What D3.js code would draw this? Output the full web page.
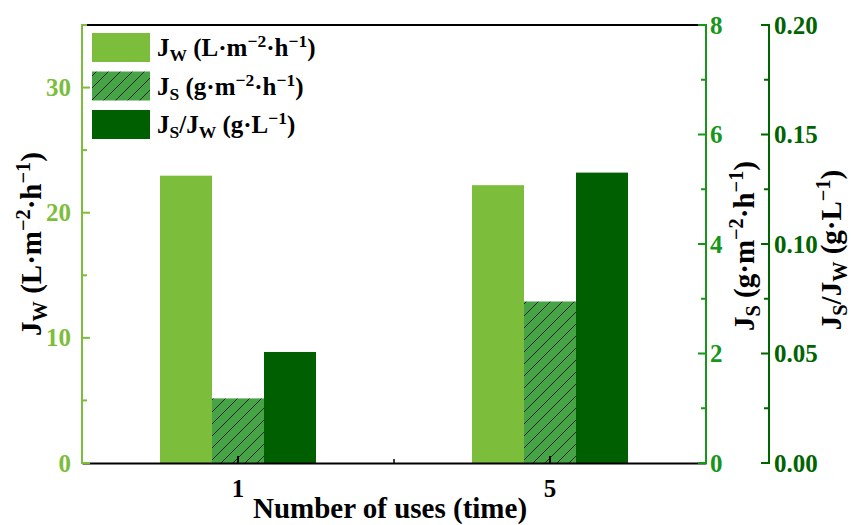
<!DOCTYPE html>
<html>
<head>
<meta charset="utf-8">
<script src="https://cdn.jsdelivr.net/npm/d3@7"></script>
<style>
  html, body { margin: 0; padding: 0; background: #fff; }
  svg { display: block; font-family: "Liberation Serif", "Times New Roman", serif; font-weight: bold; }
</style>
</head>
<body>
<div id="chart"></div>
<script>
// Membrane performance over repeated uses
const categories = ["1", "5"];
const seriesKeys = ["Jw", "Js", "ratio"];
const jwValues = [22.96, 22.2];      // L·m⁻²·h⁻¹
const jsValues = [1.18, 2.95];       // g·m⁻²·h⁻¹
const ratioValues = [0.0507, 0.1326]; // g·L⁻¹

const leftTicks = [0, 10, 20, 30];
const jsTicks = [0, 2, 4, 6, 8];
const ratioTicks = [0, 0.05, 0.10, 0.15, 0.20];

const W = 851, H = 525;
const m = { left: 82, right: 706, top: 25, bottom: 463 };
const axis2X = 769;

const colW = "#7dbd3c", colS = "#46a446", colR = "#005f00";
const axisColL = "#7dbd3c", axisColS = "#16961a", axisColR = "#006400";

const svg = d3.select("#chart").append("svg").attr("width", W).attr("height", H);

// Diagonal hatch for the solute-flux bars
const hs = 12;
const defs = svg.append("defs");
const pat = defs.append("pattern").attr("id", "hatch").attr("patternUnits", "userSpaceOnUse")
  .attr("width", hs).attr("height", hs);
pat.append("rect").attr("width", hs).attr("height", hs).attr("fill", colS);
pat.append("path").attr("d", `M-1,${hs + 1} L${hs + 1},-1 M-3,3 L3,-3 M${hs - 3},${hs + 3} L${hs + 3},${hs - 3}`)
  .attr("stroke", "#1a1a1a").attr("stroke-width", 0.9);

const x0 = d3.scaleBand().domain(categories).range([m.left, m.right]).paddingInner(0.5).paddingOuter(0.25);
const x1 = d3.scaleBand().domain(seriesKeys).range([0, x0.bandwidth()]);
const yW = d3.scaleLinear().domain([0, 35]).range([m.bottom, m.top]);
const yS = d3.scaleLinear().domain([0, 8]).range([m.bottom, m.top]);
const yR = d3.scaleLinear().domain([0, 0.2]).range([m.bottom, m.top]);

const series = [
  { key: "Jw", values: jwValues, y: yW, fill: colW },
  { key: "Js", values: jsValues, y: yS, fill: "url(#hatch)" },
  { key: "ratio", values: ratioValues, y: yR, fill: colR }
];

// Bars
series.forEach(s => {
  svg.append("g").selectAll("rect").data(categories.map((c, i) => ({ c, v: s.values[i] })))
    .join("rect")
    .attr("x", d => x0(d.c) + x1(s.key))
    .attr("width", x1.bandwidth())
    .attr("y", d => s.y(d.v))
    .attr("height", d => m.bottom - s.y(d.v))
    .attr("fill", s.fill);
});

// Frame: top border
svg.append("line").attr("x1", m.left).attr("x2", m.right).attr("y1", m.top).attr("y2", m.top)
  .attr("stroke", "#000").attr("stroke-width", 2);

// X axis
const xAxis = svg.append("g").attr("transform", `translate(0,${m.bottom})`)
  .call(d3.axisBottom(x0).tickSize(0).tickPadding(16));
xAxis.select(".domain").attr("stroke", "#000").attr("stroke-width", 2);
xAxis.selectAll("text").attr("font-size", 25).attr("font-family", "Liberation Serif").attr("fill", "#000");
const xCenters = categories.map(c => x0(c) + x0.bandwidth() / 2);
const xMinor = [(xCenters[0] + xCenters[1]) / 2];
svg.append("g").selectAll("line").data(xCenters).join("line")
  .attr("x1", d => d).attr("x2", d => d).attr("y1", m.bottom).attr("y2", m.bottom - 7)
  .attr("stroke", "#000").attr("stroke-width", 2);
svg.append("g").selectAll("line").data(xMinor).join("line")
  .attr("x1", d => d).attr("x2", d => d).attr("y1", m.bottom).attr("y2", m.bottom - 4)
  .attr("stroke", "#000").attr("stroke-width", 1.5);

// Generic vertical axis with inward major/minor ticks
function vAxis(xPos, scale, ticks, minors, color, side, fmt, labelGap) {
  const g = svg.append("g");
  g.append("line").attr("x1", xPos).attr("x2", xPos).attr("y1", m.top - 1).attr("y2", m.bottom + 1)
    .attr("stroke", color).attr("stroke-width", 2);
  const dir = side === "left" ? 1 : -1;
  g.selectAll(".maj").data(ticks).join("line").attr("class", "maj")
    .attr("x1", xPos).attr("x2", xPos + dir * 8)
    .attr("y1", d => scale(d)).attr("y2", d => scale(d))
    .attr("stroke", color).attr("stroke-width", 2);
  g.selectAll(".min").data(minors).join("line").attr("class", "min")
    .attr("x1", xPos).attr("x2", xPos + dir * 5)
    .attr("y1", d => scale(d)).attr("y2", d => scale(d))
    .attr("stroke", color).attr("stroke-width", 2);
  g.selectAll("text").data(ticks).join("text")
    .attr("x", side === "left" ? xPos - labelGap : xPos + labelGap)
    .attr("y", d => scale(d))
    .attr("dy", "0.34em")
    .attr("text-anchor", side === "left" ? "end" : "start")
    .attr("font-size", 25).attr("fill", color)
    .text(fmt);
}

vAxis(m.left, yW, leftTicks, [5, 15, 25, 35], axisColL, "left", d => d3.format("d")(d), 11);
vAxis(m.right, yS, jsTicks, [1, 3, 5, 7], axisColS, "right", d => d3.format("d")(d), 4);
vAxis(axis2X, yR, ratioTicks, [0.025, 0.075, 0.125, 0.175], axisColR, "right", d => d3.format(".2f")(d), 5);

// Rich text with subscripts and superscripts
function rich(sel, parts, size) {
  parts.forEach(p => {
    const t = sel.append("tspan").text(p.t);
    if (p.sub) t.attr("font-size", size * 0.7).attr("baseline-shift", (-size * 0.2) + "px");
    else if (p.sup) t.attr("font-size", size * 0.7).attr("baseline-shift", (size * 0.38) + "px");
  });
  return sel;
}

const labelJw = [{ t: "J" }, { t: "W", sub: true }, { t: " (L·m" }, { t: "−2", sup: true }, { t: "·h" }, { t: "−1", sup: true }, { t: ")" }];
const labelJs = [{ t: "J" }, { t: "S", sub: true }, { t: " (g·m" }, { t: "−2", sup: true }, { t: "·h" }, { t: "−1", sup: true }, { t: ")" }];
const labelR = [{ t: "J" }, { t: "S", sub: true }, { t: "/J" }, { t: "W", sub: true }, { t: " (g·L" }, { t: "−1", sup: true }, { t: ")" }];

// Axis titles
const tSize = 29;
rich(svg.append("text").attr("transform", `translate(41,${(m.top + m.bottom) / 2}) rotate(-90)`)
  .attr("text-anchor", "middle").attr("font-size", tSize).attr("fill", "#000"), labelJw, tSize);
rich(svg.append("text").attr("transform", `translate(754,${(m.top + m.bottom) / 2 + 2}) rotate(-90)`)
  .attr("text-anchor", "middle").attr("font-size", tSize).attr("fill", "#000"), labelJs, tSize);
rich(svg.append("text").attr("transform", `translate(841,${(m.top + m.bottom) / 2 + 6}) rotate(-90)`)
  .attr("text-anchor", "middle").attr("font-size", tSize).attr("fill", "#000"), labelR, tSize);
svg.append("text").attr("x", (m.left + m.right) / 2 - 4).attr("y", 518)
  .attr("text-anchor", "middle").attr("font-size", tSize).attr("fill", "#000")
  .text("Number of uses (time)");

// Legend
const legend = [
  { fill: colW, parts: labelJw },
  { fill: "url(#hatch)", parts: labelJs },
  { fill: colR, parts: labelR }
];
const lg = svg.append("g");
legend.forEach((d, i) => {
  const y = 33 + i * 38.5;
  lg.append("rect").attr("x", 92).attr("y", y).attr("width", 58).attr("height", 29).attr("fill", d.fill);
  rich(lg.append("text").attr("x", 157).attr("y", y + 23).attr("font-size", 25).attr("fill", "#000"), d.parts, 25);
});
</script>
</body>
</html>
